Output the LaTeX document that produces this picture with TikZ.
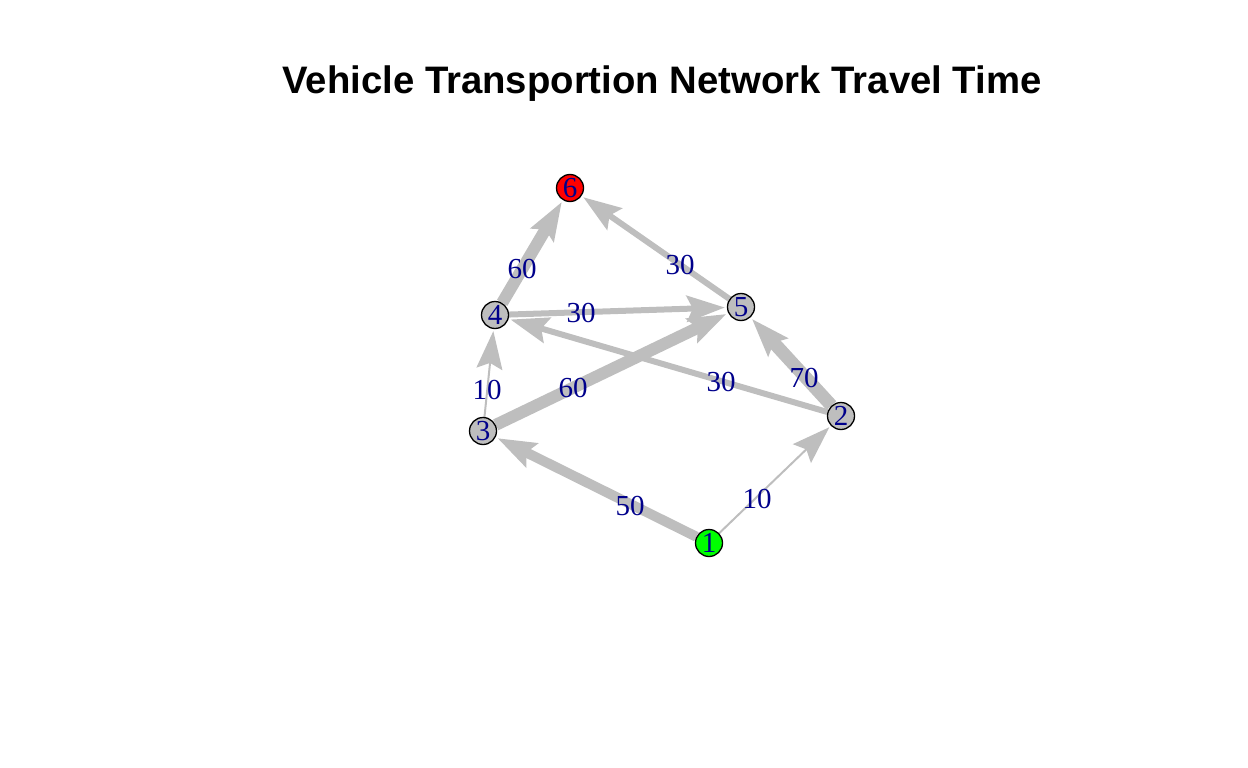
\documentclass[tikz,border=0pt]{standalone}
\usepackage{fontspec}
\setmainfont{Liberation Serif}
\newfontfamily\titlefont{Liberation Sans}
\usetikzlibrary{arrows.meta,backgrounds}
\definecolor{edgegray}{HTML}{BEBEBE}
\definecolor{vertexgray}{HTML}{BEBEBE}
\definecolor{labelblue}{HTML}{00008B}
\definecolor{sourcegreen}{HTML}{00FF00}
\definecolor{sinkred}{HTML}{FF0000}
\tikzset{
  vertex/.style={circle,draw=black,line width=1.3pt,fill=vertexgray,minimum size=27pt,inner sep=0pt,
    text=labelblue,font=\fontsize{29}{29}\selectfont},
  flow/.style={edgegray,-{Stealth[length=38pt,width=26pt,inset=6pt]},shorten >=2pt},
  weight/.style={text=labelblue,inner sep=0pt,font=\fontsize{29}{29}\selectfont}
}

\begin{document}
\begin{tikzpicture}[x=1pt,y=-1pt]
\useasboundingbox (0,0) rectangle (1248,768);
\node[anchor=base,font=\titlefont\bfseries\fontsize{38.3}{38.3}\selectfont] (title) at (662,93)
  {Vehicle Transportion Network Travel Time};
% vertices
\node[vertex,fill=sourcegreen] (v1) at (709,543) {1};
\node[vertex] (v2) at (841,416) {2};
\node[vertex] (v3) at (483,431) {3};
\node[vertex] (v4) at (495,315) {4};
\node[vertex] (v5) at (741,307) {5};
\node[vertex,fill=sinkred] (v6) at (570,188) {6};
% edges, width = travel time / 5
\begin{scope}[on background layer]
\draw[flow,line width=2pt] (v1) -- (v2);
\draw[flow,line width=10pt] (v1) -- (v3);
\draw[flow,line width=13pt] (v2) -- (v5);
\draw[flow,line width=6pt] (v2) -- (v4);
\draw[flow,line width=2pt] (v3) -- (v4);
\draw[flow,line width=12pt] (v3) -- (v5);
\draw[flow,line width=6pt] (v4) -- (v5);
\draw[flow,line width=12pt] (v4) -- (v6);
\draw[flow,line width=6pt] (v5) -- (v6);
\end{scope}
% travel times
\node[weight] (w12) at (757,499) {10};
\node[weight] (w13) at (630,506) {50};
\node[weight] (w25) at (804,378) {70};
\node[weight] (w24) at (721,382) {30};
\node[weight] (w34) at (487,390) {10};
\node[weight] (w35) at (573,388) {60};
\node[weight] (w45) at (581,313) {30};
\node[weight] (w46) at (522,269) {60};
\node[weight] (w56) at (680,265) {30};
\end{tikzpicture}
\end{document}
